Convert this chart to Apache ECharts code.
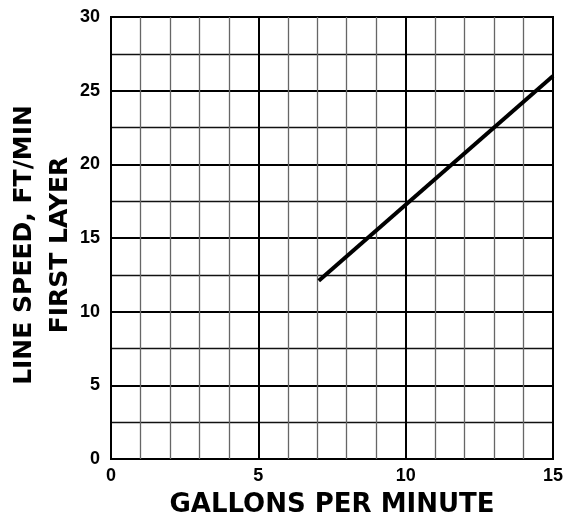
<!DOCTYPE html>
<html>
<head>
<meta charset="utf-8">
<script src="https://cdn.jsdelivr.net/npm/echarts@6/dist/echarts.min.js"></script>
<style>
  html, body { margin: 0; padding: 0; background: #fff; }
  #chart { width: 570px; height: 516px; }
</style>
</head>
<body>
<div id="chart"></div>
<script>
// data
var gpm = [7.05, 15];
var lineSpeed = [12.1, 26];

var chart = echarts.init(document.getElementById('chart'));

var font = '"Liberation Sans", Arial, sans-serif';
var titleFont = '"DejaVu Sans", sans-serif';

var option = {
    animation: false,
    grid: {
        left: 111, right: 17, top: 17, bottom: 57,
        outerBoundsMode: 'none',
        show: true,
        borderColor: '#000',
        borderWidth: 2
    },
    xAxis: {
        type: 'value',
        min: 0, max: 15, interval: 5,
        name: 'GALLONS PER MINUTE',
        nameLocation: 'middle',
        nameGap: 33,
        nameTextStyle: { fontFamily: titleFont, fontWeight: 'bold', fontSize: 26, color: '#000' },
        axisLine: { show: false },
        axisTick: { show: false },
        axisLabel: { fontFamily: font, fontWeight: 'bold', fontSize: 18, color: '#000', margin: 8 },
        splitLine: { lineStyle: { color: '#000', width: 2 } },
        minorTick: { show: false, splitNumber: 5 },
        minorSplitLine: { show: true, lineStyle: { color: '#666', width: 1.3 } }
    },
    yAxis: {
        type: 'value',
        min: 0, max: 30, interval: 5,
        name: 'LINE SPEED, FT/MIN\nFIRST LAYER',
        nameLocation: 'middle',
        nameRotate: 90,
        nameGap: 33,
        nameMoveOverlap: false,
        nameTextStyle: {
            fontFamily: titleFont, fontWeight: 'bold', fontSize: 25, color: '#000',
            lineHeight: 36, padding: [0, 14, 0, 0]
        },
        axisLine: { show: false },
        axisTick: { show: false },
        axisLabel: { fontFamily: font, fontWeight: 'bold', fontSize: 18, color: '#000', margin: 11 },
        splitLine: { lineStyle: { color: '#000', width: 2 } },
        minorTick: { show: false, splitNumber: 2 },
        minorSplitLine: { show: true, lineStyle: { color: '#111', width: 1.3 } }
    },
    series: [{
        type: 'line',
        data: gpm.map(function (x, i) { return [x, lineSpeed[i]]; }),
        symbol: 'none',
        lineStyle: { color: '#000', width: 4 }
    }]
};

chart.setOption(option);
</script>
</body>
</html>
